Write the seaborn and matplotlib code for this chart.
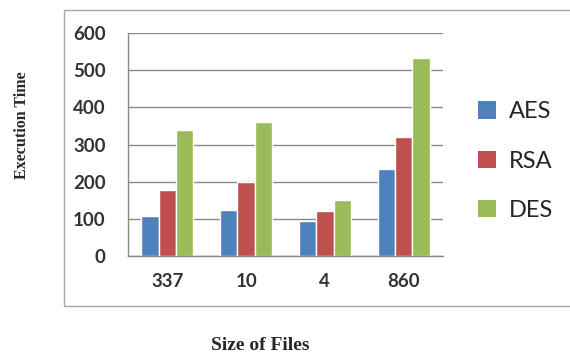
import matplotlib
matplotlib.use('Agg')
import matplotlib.pyplot as plt
import seaborn as sns
import pandas as pd
from matplotlib.patches import Rectangle, Patch

# chart values
file_sizes = ['337', '10', '4', '860']
algorithms = ['AES', 'RSA', 'DES']
aes_times = [108, 125, 95, 233]
rsa_times = [178, 200, 120, 320]
des_times = [340, 362, 150, 532]
y_ticks = [0, 100, 200, 300, 400, 500, 600]

colors = ['#4F81BD', '#C0504D', '#9BBB59']

rows = []
for alg, vals in zip(algorithms, [aes_times, rsa_times, des_times]):
    for size, v in zip(file_sizes, vals):
        rows.append({'size': size, 'alg': alg, 'time': v})
df = pd.DataFrame(rows)

sns.set_style('white')
plt.rcParams['font.family'] = ['Lato', 'DejaVu Sans']

fig = plt.figure(figsize=(5.7, 3.56), dpi=100)
ax = fig.add_axes([0.2246, 0.281, 0.5526, 0.626])

sns.barplot(data=df, x='size', y='time', hue='alg', order=file_sizes,
            hue_order=algorithms, palette=colors, width=0.66, saturation=1,
            gap=0, ax=ax, legend=False)

ax.set_ylim(0, 600)
ax.set_xlim(-0.5, 3.5)
ax.set_yticks(y_ticks)
ax.yaxis.grid(True, color='#8a8a8a', linewidth=1)
ax.set_axisbelow(True)
for s in ['top', 'right']:
    ax.spines[s].set_visible(False)
for s in ['left', 'bottom']:
    ax.spines[s].set_color('#8a8a8a')
    ax.spines[s].set_linewidth(1)

ax.set_xticks(range(len(file_sizes)))
ax.set_xticklabels(file_sizes)
ax.set_xticks([-0.5, 0.5, 1.5, 2.5, 3.5], minor=True)
ax.tick_params(axis='x', which='major', length=0, pad=12, labelsize=13.5, labelcolor='#333333')
ax.tick_params(axis='x', which='minor', length=4, color='#8a8a8a', direction='out')
ax.tick_params(axis='y', length=4, color='#8a8a8a', direction='out', pad=12,
               labelsize=13.5, labelcolor='#333333')
for lab in ax.get_yticklabels() + ax.get_xticklabels():
    lab.set_fontweight('bold')
ax.set_xlabel('')
ax.set_ylabel('')

# frame around the chart area
fig.add_artist(Rectangle((64 / 570, (356 - 306) / 356), 510 / 570, 296 / 356,
                         transform=fig.transFigure, fill=False,
                         edgecolor='#a8a8a8', linewidth=1))

fig.text(22 / 570, 1 - 125 / 356, 'Execution Time', rotation=90, ha='center', va='center',
         family='Liberation Serif', fontweight='bold', fontsize=11.5)
fig.text(260 / 570, 1 - 346 / 356, 'Size of Files', ha='center', va='center',
         family='Liberation Serif', fontweight='bold', fontsize=14)

handles = [Patch(facecolor=c, edgecolor='none') for c in colors]
fig.legend(handles, algorithms, loc='center left', bbox_to_anchor=(478 / 570, 1 - 161 / 356),
           frameon=False, fontsize=17, handlelength=0.75, handleheight=0.75,
           handletextpad=0.55, labelspacing=1.2, borderaxespad=0, borderpad=0)

fig.savefig('out.png', dpi=100)
